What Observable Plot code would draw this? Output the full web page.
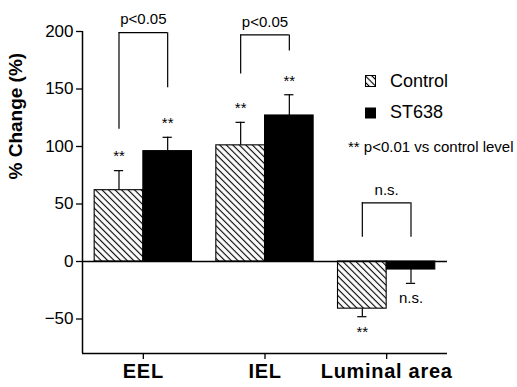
<!DOCTYPE html>
<html><head><meta charset="utf-8">
<script src="https://cdn.jsdelivr.net/npm/d3@7"></script>
<script src="https://cdn.jsdelivr.net/npm/@observablehq/plot@0.6"></script>
<style>
html,body{margin:0;padding:0;background:#fff;}
#wrap{position:relative;width:517px;height:387px;font-family:"Liberation Sans",Arial,sans-serif;}
#legend{position:absolute;left:0;top:0;pointer-events:none;}
g[aria-label="x-axis tick label"] text{letter-spacing:0.7px;}
</style></head><body>
<svg width="0" height="0" style="position:absolute">
<defs><pattern id="hatch" patternUnits="userSpaceOnUse" width="4.6" height="4.6" patternTransform="rotate(-45)">
<rect width="4.6" height="4.6" fill="white"/>
<line x1="2.3" y1="-1" x2="2.3" y2="5.6" stroke="black" stroke-width="1.15"/>
</pattern></defs></svg>
<div id="wrap"></div>
<script>
// ---- data ----
const categories = ["EEL", "IEL", "Luminal area"];
const groups = ["Control", "ST638"];
const controlMean = [62, 101, -41];
const controlErr = [17, 20, 7];
const st638Mean = [96, 127, -7];
const st638Err = [12, 18, 12];
const controlSig = ["**", "**", "**"];
const st638Sig = ["**", "**", "n.s."];
const yTicks = [-50, 0, 50, 100, 150, 200];
const yDomain = [-80, 200];
const bracketTop = [199, 197, 51];
const bracketLeftEnd = [115, 163, 21];
const bracketRightEnd = [151, 183, 21];
const bracketLabel = ["p<0.05", "p<0.05", "n.s."];
const yLabel = "% Change (%)";
const footnote = "** p<0.01 vs control level";

// ---- derived tables ----
const xDomain = [-0.5, categories.length - 0.5];
const bw = 0.4;
const bars = categories.flatMap((c, i) => [
  {c, group: groups[0], x1: i - bw, x2: i, v: controlMean[i], e: controlErr[i], sig: controlSig[i]},
  {c, group: groups[1], x1: i, x2: i + bw, v: st638Mean[i], e: st638Err[i], sig: st638Sig[i]}
]).map(d => ({...d, xc: (d.x1 + d.x2) / 2, tip: d.v + Math.sign(d.v) * d.e}));
const brackets = categories.map((c, i) => ({
  c, xl: i - bw / 2, xr: i + bw / 2, xm: i,
  top: bracketTop[i], le: bracketLeftEnd[i], re: bracketRightEnd[i], label: bracketLabel[i]
}));
const legs = brackets.flatMap(b => [{x: b.xl, y1: b.le, y2: b.top}, {x: b.xr, y1: b.re, y2: b.top}]);
const cap = 0.038;

const chart = Plot.plot({
  width: 517, height: 387,
  marginLeft: 82, marginRight: 70, marginTop: 31, marginBottom: 34,
  style: {fontFamily: '"Liberation Sans", Arial, sans-serif', fontSize: "15px", color: "black", background: "white", overflow: "visible"},
  x: {domain: xDomain, axis: null},
  y: {domain: yDomain, axis: null},
  marks: [
    Plot.rect(bars.filter(d => d.group === groups[0]), {x1: "x1", x2: "x2", y1: 0, y2: "v", fill: "url(#hatch)", stroke: "black", strokeWidth: 1.1}),
    Plot.rect(bars.filter(d => d.group === groups[1]), {x1: "x1", x2: "x2", y1: 0, y2: "v", fill: "black", stroke: "black", strokeWidth: 1}),
    Plot.ruleX(bars, {x: "xc", y1: "v", y2: "tip", strokeWidth: 1.2}),
    Plot.ruleY(bars, {y: "tip", x1: d => d.xc - cap, x2: d => d.xc + cap, strokeWidth: 1.2}),
    Plot.text(bars.filter(d => d.v >= 0), {x: "xc", y: "tip", text: "sig", dy: -14, fontSize: 15}),
    Plot.text(bars.filter(d => d.v < 0), {x: "xc", y: "tip", text: "sig", dy: 15, fontSize: 15}),
    Plot.ruleY([0], {strokeWidth: 1.5}),
    Plot.ruleX(legs, {x: "x", y1: "y1", y2: "y2", strokeWidth: 1.2}),
    Plot.ruleY(brackets, {y: "top", x1: "xl", x2: "xr", strokeWidth: 1.2}),
    Plot.text(brackets, {x: "xm", y: "top", text: "label", dy: -13, fontSize: 15}),
    Plot.ruleX([xDomain[0]], {strokeWidth: 1.5}),
    Plot.ruleY([yDomain[0]], {strokeWidth: 1.5}),
    Plot.axisY({ticks: yTicks, tickSize: 6, tickPadding: 3, fontSize: 17, label: null, strokeWidth: 1.3}),
    Plot.axisX({ticks: categories.map((c, i) => i), tickFormat: i => categories[i], tickSize: 6, tickPadding: 4, fontSize: 20, fontWeight: "bold", label: null, strokeWidth: 1.3}),
    Plot.text([yLabel], {frameAnchor: "left", rotate: -90, dx: -67, dy: -13, fontSize: 19, fontWeight: "bold", text: d => d})
  ]
});
const wrap = document.getElementById("wrap");
wrap.appendChild(chart);

// ---- legend overlay ----
const leg = d3.select(wrap).append("svg").attr("id", "legend").attr("width", 517).attr("height", 387)
  .style("font-family", '"Liberation Sans", Arial, sans-serif');
leg.append("rect").attr("x", 365.5).attr("y", 75.5).attr("width", 10).attr("height", 11).attr("fill", "url(#hatch)").attr("stroke", "black");
leg.append("rect").attr("x", 365).attr("y", 107.5).attr("width", 11).attr("height", 11).attr("fill", "black");
leg.append("text").attr("x", 390).attr("y", 87).attr("font-size", 18).text(groups[0]);
leg.append("text").attr("x", 390).attr("y", 118).attr("font-size", 18).text(groups[1]);
leg.append("text").attr("x", 348).attr("y", 152).attr("font-size", 15).text(footnote);
</script>
</body></html>
